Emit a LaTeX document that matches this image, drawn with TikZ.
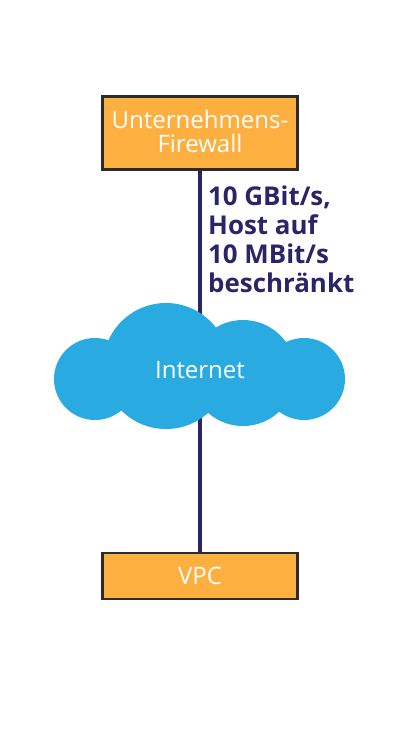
\documentclass[tikz,border=0pt]{standalone}
\usepackage{fontspec}
\setmainfont{Open Sans}
\pgfdeclarelayer{wires}
\pgfdeclarelayer{cloud}
\pgfsetlayers{wires,cloud,main}
\definecolor{boxorange}{HTML}{FDB040}
\definecolor{cloudblue}{HTML}{29ABE2}
\definecolor{linknavy}{HTML}{2A2566}
\definecolor{boxedge}{HTML}{2B2B2B}
\tikzset{
  x=1pt,y=-1pt,
  boxnode/.style={draw=boxedge,line width=2.8pt,fill=boxorange,text=white,minimum width=195.5pt,align=center,inner sep=0pt,font=\fontsize{24}{24}\selectfont},
  wire/.style={draw=linknavy,line width=3.2pt},
  puff/.style={fill=cloudblue,draw=none},
  cloudlabel/.style={text=white,inner sep=0pt,font=\fontsize{24}{24}\selectfont},
  linklabel/.style={text=linknavy,align=left,inner sep=0pt,anchor=north west,font=\fontsize{25.9}{29}\bfseries\selectfont}
}
\begin{document}
\begin{tikzpicture}
\useasboundingbox (0,0) rectangle (407,729);
\node[boxnode,minimum height=73.5pt] (firewall) at (200,133) {};
\node[cloudlabel,align=center] (fwtext) at (200,131.5) {Unternehmens-\\Firewall};
\node[boxnode,minimum height=46pt] (vpc) at (200,576) {\raisebox{-1pt}{VPC}};
\node[cloudlabel] (internet) at (200,370.5) {Internet};
\node[linklabel] (speed) at (208,186) {10 GBit/s,\\Host auf\\10 MBit/s\\beschränkt};
\begin{pgfonlayer}{wires}
\draw[wire] (firewall) -- (internet);
\draw[wire] (internet) -- (vpc);
\end{pgfonlayer}
\begin{pgfonlayer}{cloud}
\fill[puff] (95,379) circle[radius=41];
\fill[puff] (166,366) circle[radius=63];
\fill[puff] (243,373) circle[radius=53];
\fill[puff] (304,379) circle[radius=41];
\fill[puff] (120,370) rectangle (300,400);
\end{pgfonlayer}
\end{tikzpicture}
\end{document}
